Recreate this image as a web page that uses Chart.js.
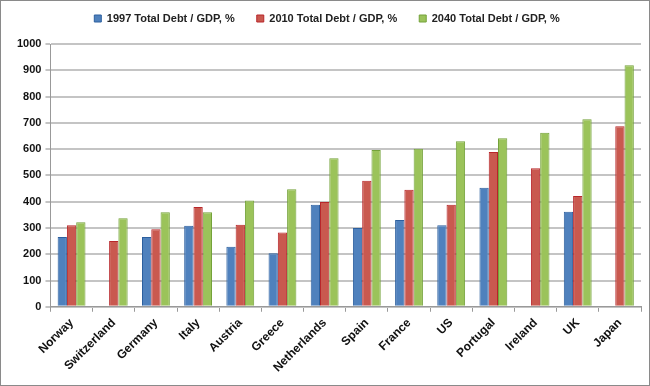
<!DOCTYPE html>
<html><head><meta charset="utf-8">
<script src="https://cdn.jsdelivr.net/npm/chart.js@4"></script>
<style>
html,body{margin:0;padding:0;background:#fff;}
#wrap{position:absolute;left:0;top:0;width:648px;height:384px;border:1px solid #8a8a8a;}
canvas{display:block;}
</style></head><body>
<div id="wrap"><canvas id="c" width="648" height="384"></canvas></div>
<script>
const categories = ["Norway","Switzerland","Germany","Italy","Austria","Greece","Netherlands","Spain","France","US","Portugal","Ireland","UK","Japan"];
const debt1997 = [266, null, 266, 308, 228, 204, 388, 300, 330, 310, 453, null, 362, null];
const debt2010 = [310, 250, 295, 380, 312, 283, 399, 480, 445, 388, 589, 527, 422, 687];
const debt2040 = [322, 337, 360, 360, 404, 447, 565, 597, 601, 630, 641, 662, 714, 919];
const yTicks = [0,100,200,300,400,500,600,700,800,900,1000];

const font = {family: "'Liberation Sans', Arial, sans-serif", weight: 'bold', size: 11};
const xFont = {family: "'Liberation Sans', Arial, sans-serif", weight: 'bold', size: 12};

const legendHeight = {
  id: 'legendHeight',
  beforeInit(chart) {
    const orig = chart.legend.fit;
    chart.legend.fit = function () { orig.call(this); this.height = 53; };
  }
};

new Chart(document.getElementById('c'), {
  type: 'bar',
  data: {
    labels: categories,
    datasets: [
      {label: '1997 Total Debt / GDP, %', data: debt1997, backgroundColor: '#4f81bd', borderColor: '#2c5f9e', borderWidth: 1},
      {label: '2010 Total Debt / GDP, %', data: debt2010, backgroundColor: '#c9594f', borderColor: '#b8262a', borderWidth: 1},
      {label: '2040 Total Debt / GDP, %', data: debt2040, backgroundColor: '#9bc35a', borderColor: '#74a23a', borderWidth: 1}
    ]
  },
  plugins: [legendHeight],
  options: {
    responsive: false,
    animation: false,
    layout: {padding: {left: 12, right: 8, top: -10, bottom: 6}},
    datasets: {bar: {categoryPercentage: 0.66, barPercentage: 1.0}},
    plugins: {
      legend: {
        position: 'top',
        labels: {boxWidth: 7, boxHeight: 7, padding: 22, color: '#222', font: font}
      },
      tooltip: {enabled: false}
    },
    scales: {
      x: {
        grid: {display: true, drawOnChartArea: false, offset: true, tickLength: 5, color: '#999'},
        border: {color: '#999'},
        ticks: {color: '#111', font: xFont, maxRotation: 45, minRotation: 45, padding: 4}
      },
      y: {
        min: 0, max: 1000,
        afterBuildTicks: (ax) => { ax.ticks = yTicks.map(v => ({value: v})); },
        grid: {color: '#c4c4c4', lineWidth: 2, tickLength: 5},
        border: {color: '#999'},
        ticks: {color: '#111', font: font, padding: 4, callback: (v) => String(v)}
      }
    }
  }
});
</script>
</body></html>
